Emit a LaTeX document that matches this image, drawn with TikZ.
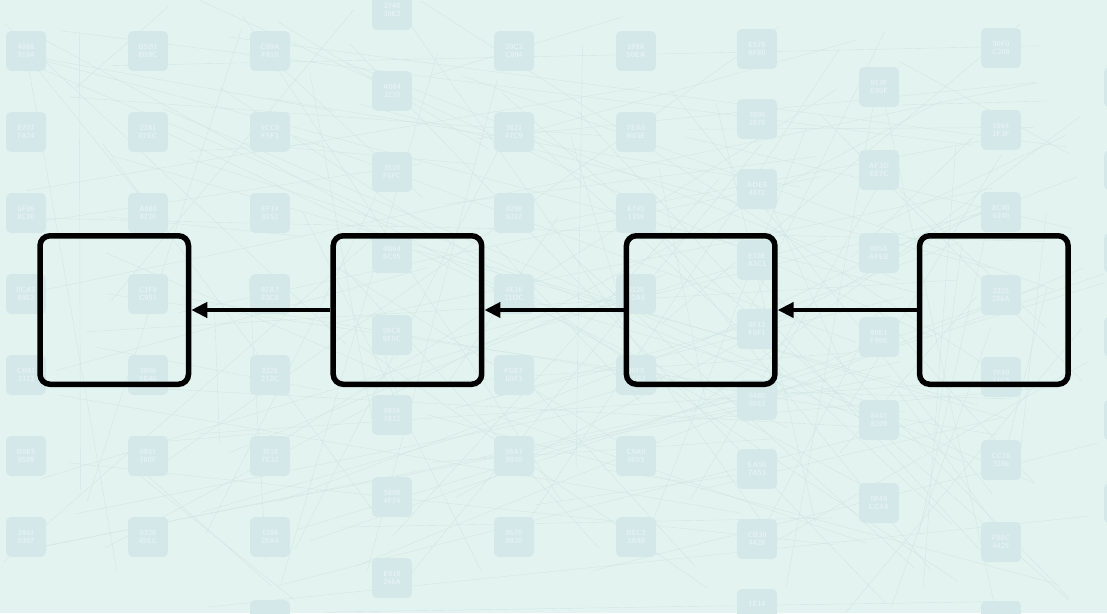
\documentclass[tikz,border=0pt]{standalone}
\usepackage{tikz}
\usetikzlibrary{arrows.meta,positioning}
\definecolor{bgmint}{HTML}{E3F4F0}
\definecolor{tilemint}{HTML}{D4E8EA}
\definecolor{tiletext}{HTML}{E6F2F3}
\definecolor{wiremint}{HTML}{D2E6E3}
\tikzset{
  tilefont/.style={align=center, text=tiletext, font=\sffamily\bfseries\fontsize{7.5}{8.5}\selectfont},
  tile/.style={rectangle, fill=tilemint, rounded corners=5pt, minimum size=40pt, inner sep=0pt, tilefont},
  wire/.style={draw=wiremint, line width=0.4pt},
  stage/.style={rectangle, draw=black, line width=5.5pt, rounded corners=10pt,
    minimum width=148.5pt, minimum height=148.5pt, inner sep=0pt},
  link/.style={line width=4.5pt, -{Triangle[length=16pt,width=15pt]}},
}
\begin{document}
\begin{tikzpicture}[x=1pt,y=-1pt]

  % canvas
  \fill[bgmint] (0,0) rectangle (1107,613);
  \useasboundingbox (0,0) rectangle (1107,613);

  %% ==================
  %% faint background
  %% ==================
  \begin{scope}
    \clip (0,0) rectangle (1107,613);
    \pgfmathsetseed{4711}
    \foreach \k in {1,...,160}{
      \pgfmathsetmacro{\xa}{rnd*1107}
      \pgfmathsetmacro{\ya}{rnd*613}
      \pgfmathsetmacro{\xb}{rnd*1107}
      \pgfmathsetmacro{\yb}{rnd*613}
      \draw[wire] (\xa,\ya) -- (\xb,\yb);
    }
    % tile grid
    \foreach \cx/\cy/\ta/\tb in {
      26/51/4888/9184, 26/132/E707/7A24, 26/213/6F06/8C80, 26/294/0CA1/84E2,
      26/375/CR81/2312, 26/456/B0E5/9589, 26/537/2461/0397,
      148/51/B5B1/8B9C, 148/132/2281/07EC, 148/213/A688/8230, 148/294/C1F8/C951,
      148/375/3806/5E40, 148/456/8951/760F, 148/537/0328/45EC,
      270/51/C89A/F810, 270/132/5CC0/F5F3, 270/213/EF14/8152, 270/294/87A3/83C0,
      270/375/222E/212C, 270/456/3518/7E32, 270/537/1286/28A4,
      392/10/2748/30E2, 392/91/A084/3270, 392/172/3510/F8FC, 392/253/4B64/6C95,
      392/335/06C8/8F0C, 392/415/9874/7812, 392/497/5809/4F74, 392/578/E918/246A,
      514/51/20C3/C894, 514/132/3821/47C9, 514/213/0298/6317, 514/294/4E16/21DC,
      514/375/FGEF/60F3, 514/456/59A1/9910, 514/537/8670/8820,
      636/51/189A/50EA, 636/132/7EA0/B03E, 636/213/E745/1356, 636/294/9120/E2A5,
      636/375/30F5/A1B2, 636/456/C9A0/8053, 636/537/BEC2/3A98,
      757/49/E578/6F80, 757/119/3800/1870, 757/189/ADE8/4971, 757/260/E18E/A1C1,
      757/329/0F12/F0F1, 757/400/0480/0053, 757/469/EA50/7A53, 757/539/CB30/4428,
      879/87/913F/E00F, 879/170/AF3D/EE7C, 879/253/005A/AFEB, 879/337/90E1/F99E,
      879/420/8441/8209, 879/503/0F48/CC4A,
      1001/48/90F0/C208, 1001/130/5864/1F3F, 1001/212/8C40/6240, 1001/295/2325/286A,
      1001/377/7F40/31C5, 1001/460/CC10/3286, 1001/542/F00C/6425}
      \node[tile] at (\cx,\cy) {\ta\\\tb};
    % partial tiles at the borders
    \node[tile] (t757) at (757,609) {};
    \node[tilefont] at (757,604) {1E14};
    \foreach \cy in {87,170,253,337,420,503}
      \node[tile] at (1124,\cy) {};
    \node[tile] at (270,620) {};
    \node[tile] at (1001,621) {};
  \end{scope}

  %% ==================
  %% stages
  %% ==================
  \node[stage] (s1) at (114.25,310) {};
  \node[stage, right=139.2pt of s1] (s2) {};
  \node[stage, right=139.2pt of s2] (s3) {};
  \node[stage, right=139.2pt of s3] (s4) {};

  % links (right to left)
  \draw[link] (s4.west) -- (s3.east);
  \draw[link] (s3.west) -- (s2.east);
  \draw[link] (s2.west) -- (s1.east);

\end{tikzpicture}
\end{document}
